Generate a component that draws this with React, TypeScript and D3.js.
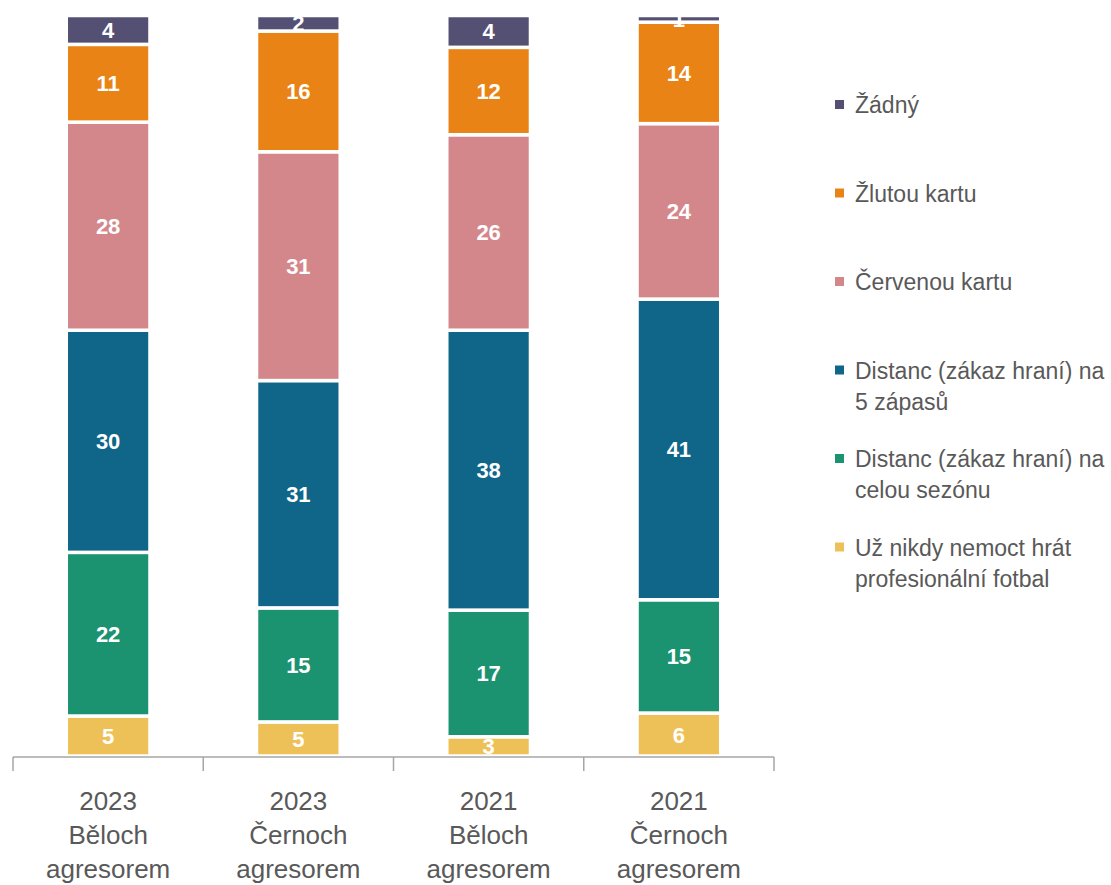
import * as d3 from 'd3';

// categories (x axis), each split into text lines
const categories = ['2023 Běloch', '2023 Černoch', '2021 Běloch', '2021 Černoch'];
const categoryLines = [
  ['2023', 'Běloch', 'agresorem'],
  ['2023', 'Černoch', 'agresorem'],
  ['2021', 'Běloch', 'agresorem'],
  ['2021', 'Černoch', 'agresorem'],
];

// series, bottom to top of the stack (percent)
const uzNikdy = [5.4, 4.6, 2.6, 5.8];
const distancSezona = [22.1, 15.4, 17.1, 15.3];
const distanc5 = [30.0, 30.7, 37.8, 40.6];
const cervenou = [28.1, 30.9, 26.4, 23.7];
const zlutou = [10.5, 16.3, 11.8, 13.7];
const zadny = [3.9, 2.1, 4.3, 0.9];

const SERIES = [
  { key: 'uzNikdy', label: ['Už nikdy nemoct hrát', 'profesionální fotbal'], color: '#eec158', values: uzNikdy },
  { key: 'distancSezona', label: ['Distanc (zákaz hraní) na', 'celou sezónu'], color: '#1b9270', values: distancSezona },
  { key: 'distanc5', label: ['Distanc (zákaz hraní) na', '5 zápasů'], color: '#0f6688', values: distanc5 },
  { key: 'cervenou', label: ['Červenou kartu'], color: '#d4878b', values: cervenou },
  { key: 'zlutou', label: ['Žlutou kartu'], color: '#e98315', values: zlutou },
  { key: 'zadny', label: ['Žádný'], color: '#535073', values: zadny },
];

const WIDTH = 1111;
const HEIGHT = 885;
const FONT = '"Liberation Sans", Arial, sans-serif';

export default function App() {
  const rows = categories.map((c, i) => {
    const row: Record<string, any> = { category: c };
    SERIES.forEach((s) => (row[s.key] = s.values[i]));
    return row;
  });

  const stacked = d3
    .stack<Record<string, any>>()
    .keys(SERIES.map((s) => s.key))
    .order(d3.stackOrderNone)
    .offset(d3.stackOffsetNone)(rows);

  const x = d3.scaleBand<string>().domain(categories).range([13, 774]).paddingInner(0.56).paddingOuter(0.28);
  const y = d3.scaleLinear().domain([0, 100]).range([756, 15.5]);

  const step = x.step();
  const bw = x.bandwidth();
  const boundaries = categories.map((c) => (x(c) as number) + bw / 2 - step / 2);
  boundaries.push(boundaries[boundaries.length - 1] + step);
  const axisY = y(0) + 1;

  const legend = [...SERIES].reverse();

  return (
    <svg width={WIDTH} height={HEIGHT} style={{ display: 'block' }}>
      <style>{'body{margin:0}'}</style>
      <rect width={WIDTH} height={HEIGHT} fill="#ffffff" />

      {stacked.map((layer, li) => (
        <g key={SERIES[li].key}>
          {layer.map((d, i) => {
            const x0 = x(d.data.category) as number;
            const y0 = y(d[1]);
            const h = y(d[0]) - y(d[1]);
            return (
              <rect
                key={i}
                x={x0}
                y={y0}
                width={bw}
                height={h}
                fill={SERIES[li].color}
                stroke="#ffffff"
                strokeWidth={3.5}
              />
            );
          })}
        </g>
      ))}

      {stacked.map((layer, li) => (
        <g key={'lbl-' + SERIES[li].key}>
          {layer.map((d, i) => (
            <text
              key={i}
              x={(x(d.data.category) as number) + bw / 2}
              y={(y(d[0]) + y(d[1])) / 2 + 8}
              textAnchor="middle"
              fill="#ffffff"
              fontFamily={FONT}
              fontWeight="bold"
              fontSize={22}
            >
              {Math.round(d[1] - d[0])}
            </text>
          ))}
        </g>
      ))}

      {/* x axis */}
      <line x1={boundaries[0]} x2={boundaries[boundaries.length - 1]} y1={axisY} y2={axisY} stroke="#a6a6a6" strokeWidth={1.5} />
      {boundaries.map((b, i) => (
        <line key={i} x1={b} x2={b} y1={axisY} y2={axisY + 14} stroke="#a6a6a6" strokeWidth={1.5} />
      ))}
      {categories.map((c, i) => (
        <text
          key={c}
          x={(x(c) as number) + bw / 2}
          textAnchor="middle"
          fill="#595959"
          fontFamily={FONT}
          fontSize={26}
        >
          {categoryLines[i].map((line, j) => (
            <tspan key={j} x={(x(c) as number) + bw / 2} y={810 + j * 34}>
              {line}
            </tspan>
          ))}
        </text>
      ))}

      {/* legend */}
      {legend.map((s, i) => {
        const cy = 105 + i * 88.5;
        return (
          <g key={s.key}>
            <rect x={835} y={cy - 5} width={9} height={9} fill={s.color} />
            <text fill="#595959" fontFamily={FONT} fontSize={23}>
              {s.label.map((line, j) => (
                <tspan key={j} x={855} y={cy + 8 + j * 31}>
                  {line}
                </tspan>
              ))}
            </text>
          </g>
        );
      })}
    </svg>
  );
}
